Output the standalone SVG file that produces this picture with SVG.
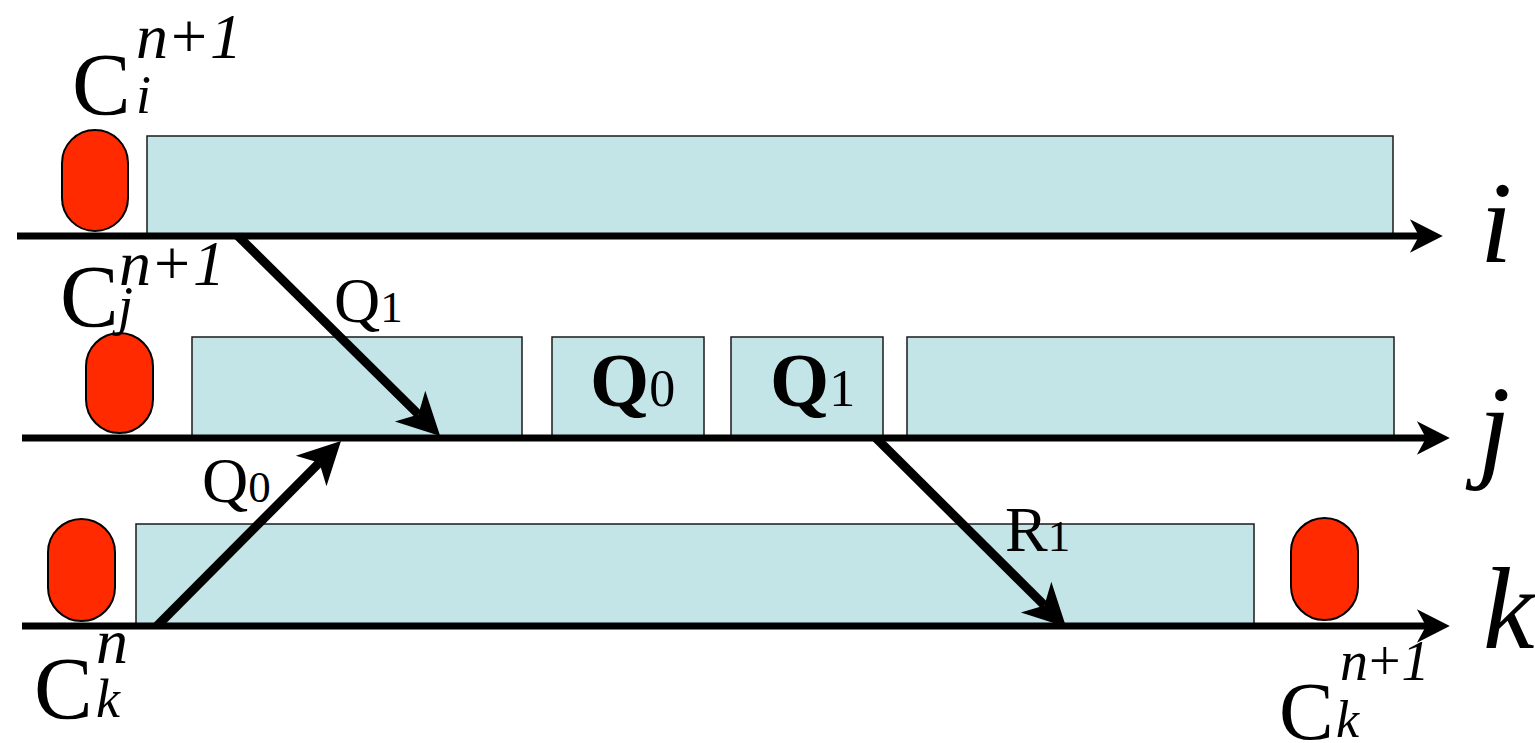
<svg xmlns="http://www.w3.org/2000/svg" width="1535" height="743" viewBox="0 0 1535 743">
  <style>
    .bar { fill: #c4e5e8; stroke: #1a1a1a; stroke-width: 1.5; }
    .cap { fill: #ff2a00; stroke: #000; stroke-width: 2; }
    .axis { stroke: #000; stroke-width: 7; fill: none; marker-end: url(#head); }
    .msg { stroke: #000; stroke-width: 9; fill: none; marker-end: url(#head); }
    text { font-family: "Liberation Serif", "Times New Roman", serif; fill: #000; }
    .big { font-size: 88px; }
    .sup { font-size: 64px; font-style: italic; letter-spacing: 3px; }
    .sub { font-size: 54px; font-style: italic; }
    .up { font-style: normal; }
    .ax { font-size: 116px; font-style: italic; }
    .lbl { font-size: 64px; }
    .dig { font-size: 45px; }
    .blbl { font-size: 76px; font-weight: bold; }
    .bdig { font-size: 52px; font-weight: normal; }
  </style>
  <defs>
    <!-- notched arrowhead, sized relative to the stroke width -->
    <marker id="head" viewBox="-1.5 -2.6 5.2 5.2" refX="0" refY="0" markerWidth="5.2" markerHeight="5.2" markerUnits="strokeWidth" orient="auto">
      <path d="M3.4,0 L-1.3,-2.4 L0,0 L-1.3,2.4 Z" fill="#000"/>
    </marker>
  </defs>

  <!-- busy intervals on each process line -->
  <g id="busy-i"><rect class="bar" x="147" y="136" width="1246" height="100"/></g>
  <g id="busy-j1"><rect class="bar" x="192" y="337" width="330" height="101"/></g>
  <g id="busy-j-q0">
    <rect class="bar" x="552" y="337" width="152" height="101"/>
    <text class="blbl" x="590" y="406">Q<tspan class="bdig">0</tspan></text>
  </g>
  <g id="busy-j-q1">
    <rect class="bar" x="731" y="337" width="152" height="101"/>
    <text class="blbl" x="770" y="406">Q<tspan class="bdig">1</tspan></text>
  </g>
  <g id="busy-j4"><rect class="bar" x="907" y="337" width="487" height="101"/></g>
  <g id="busy-k"><rect class="bar" x="136" y="524" width="1118" height="102"/></g>

  <!-- checkpoints -->
  <g id="ckpt-i"><rect class="cap" x="62" y="130" width="66" height="101" rx="33" ry="33"/></g>
  <g id="ckpt-j"><rect class="cap" x="86" y="333" width="67" height="100" rx="33.5" ry="33.5"/></g>
  <g id="ckpt-k0"><rect class="cap" x="48" y="519" width="67" height="102" rx="33.5" ry="33.5"/></g>
  <g id="ckpt-k1"><rect class="cap" x="1291" y="518" width="67" height="102" rx="33.5" ry="33.5"/></g>

  <!-- process time axes and messages -->
  <g id="connectors">
    <line class="axis" x1="17" y1="236" x2="1419" y2="236"/>
    <line class="axis" x1="22" y1="438" x2="1426" y2="438"/>
    <line class="axis" x1="22" y1="626" x2="1426" y2="626"/>
    <line class="msg" x1="238" y1="236" x2="418.4" y2="414.4"/>
    <line class="msg" x1="157" y1="626" x2="319.4" y2="462.7"/>
    <line class="msg" x1="876" y1="438" x2="1044.4" y2="605.4"/>
  </g>

  <!-- message labels -->
  <g id="label-q1"><text class="lbl" x="334" y="322">Q<tspan class="dig">1</tspan></text></g>
  <g id="label-q0"><text class="lbl" x="202" y="502">Q<tspan class="dig">0</tspan></text></g>
  <g id="label-r1"><text class="lbl" x="1005" y="551">R<tspan class="dig">1</tspan></text></g>

  <!-- checkpoint names -->
  <g id="name-ci">
    <text class="big" x="72" y="114">C</text>
    <text class="sub" x="136" y="113">i</text>
    <text class="sup" x="136" y="58">n<tspan class="up">+</tspan>1</text>
  </g>
  <g id="name-cj">
    <text class="big" x="60" y="326">C</text>
    <text class="sub" x="118" y="324">j</text>
    <text class="sup" x="119" y="285">n<tspan class="up">+</tspan>1</text>
  </g>
  <g id="name-ck0">
    <text class="big" x="34" y="718">C</text>
    <text class="sub" x="96" y="717">k</text>
    <text class="sup" x="96" y="663">n</text>
  </g>
  <g id="name-ck1">
    <text class="big" x="1279" y="739" style="font-size:82px">C</text>
    <text class="sub" x="1336" y="737" style="font-size:52px">k</text>
    <text class="sup" x="1340" y="680" style="font-size:56px;letter-spacing:1px">n<tspan class="up">+</tspan>1</text>
  </g>

  <!-- process names -->
  <g id="proc-i"><text class="ax" x="1480" y="262">i</text></g>
  <g id="proc-j"><text class="ax" x="1478" y="466">j</text></g>
  <g id="proc-k"><text class="ax" x="1483" y="648">k</text></g>
</svg>
